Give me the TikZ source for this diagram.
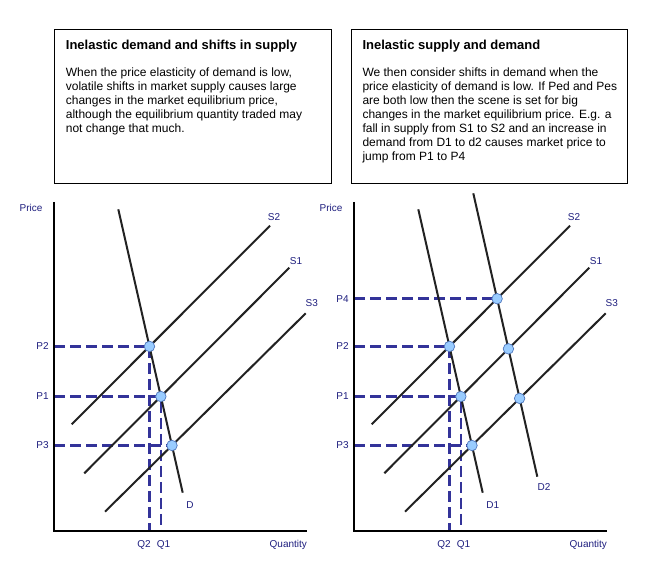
\documentclass[tikz,border=0pt]{standalone}
\usepackage{fontspec}
\setmainfont{Liberation Sans}
\usetikzlibrary{intersections}
\definecolor{labelblue}{RGB}{31,31,127}
\definecolor{guideblue}{RGB}{51,51,153}
\definecolor{ptfill}{RGB}{153,204,255}
\definecolor{ptdraw}{RGB}{80,120,190}
\definecolor{curvecol}{RGB}{34,34,34}
\tikzset{
  axisline/.style={draw=black, line width=2.1pt},
  curveline/.style={draw=curvecol, line width=2pt},
  guideline/.style={draw=guideblue, line width=2.6pt, dash pattern=on 11pt off 5pt},
  eqpt/.style={circle, fill=ptfill, draw=ptdraw, line width=0.7pt, minimum size=10.5pt, inner sep=0pt},
  lbl/.style={text=labelblue, font=\fontsize{10}{12}\selectfont, inner sep=0pt},
  textbox/.style={draw=black, line width=0.9pt, minimum width=276.4pt, minimum height=154pt, anchor=north west, inner sep=0pt},
  titletext/.style={font=\fontsize{13}{15}\selectfont\bfseries, anchor=base west, inner sep=0pt},
  bodytext/.style={font=\fontsize{12}{14}\selectfont, anchor=north west, align=left, inner sep=0pt},
}
\newcommand\marketchart[1]{%
  \coordinate (#1ytop) at (54.3,202);
  \coordinate (#1o) at (54.3,531);
  \coordinate (#1xend) at (306.7,531);
  \coordinate (#1lx) at (42.5,531);
  \coordinate (#1Da) at (118.3,209.3);
  \coordinate (#1Db) at (182.7,492.7);
  \coordinate (#1S2a) at (71.7,424.3);
  \coordinate (#1S2b) at (270,225.7);
  \coordinate (#1S1a) at (84.3,473.3);
  \coordinate (#1S1b) at (289.3,267.7);
  \coordinate (#1S3a) at (105,511.7);
  \coordinate (#1S3b) at (305.7,313.3);
  \path[name path=#1D] (#1Da) -- (#1Db);
  \path[name path=#1S2] (#1S2a) -- (#1S2b);
  \path[name path=#1S1] (#1S1a) -- (#1S1b);
  \path[name path=#1S3] (#1S3a) -- (#1S3b);
  \path[name intersections={of=#1D and #1S2, by={#1e2}}];
  \path[name intersections={of=#1D and #1S1, by={#1e1}}];
  \path[name intersections={of=#1D and #1S3, by={#1e3}}];
  \draw[guideline] (#1o |- #1e2) -- (#1e2) -- (#1e2 |- #1o);
  \draw[guideline] (#1o |- #1e1) -- (#1e1) -- (#1e1 |- #1o);
  \draw[guideline] (#1o |- #1e3) -- (#1e3);
  \draw[axisline] (#1ytop) -- (#1o) -- (#1xend);
  \draw[curveline] (#1Da) -- (#1Db);
  \draw[curveline] (#1S2a) -- (#1S2b);
  \draw[curveline] (#1S1a) -- (#1S1b);
  \draw[curveline] (#1S3a) -- (#1S3b);
  \node[eqpt] (#1pt2) at (#1e2) {};
  \node[eqpt] (#1pt1) at (#1e1) {};
  \node[eqpt] (#1pt3) at (#1e3) {};
  \node[lbl] (#1price) at (31,208) {Price};
  \node[lbl] (#1lP2) at (#1lx |- #1e2) {P2};
  \node[lbl] (#1lP1) at (#1lx |- #1e1) {P1};
  \node[lbl] (#1lP3) at (#1lx |- #1e3) {P3};
  \node[lbl] (#1lQ2) at (144,544.5) {Q2};
  \node[lbl] (#1lQ1) at (163.5,544.5) {Q1};
  \node[lbl] (#1lQ) at (288.3,544.5) {Quantity};
  \node[lbl] (#1lS2) at (274,217) {S2};
  \node[lbl] (#1lS1) at (296,261) {S1};
  \node[lbl] (#1lS3) at (311.7,303.3) {S3};
}
\begin{document}
\begin{tikzpicture}[x=1pt,y=-1pt]
\useasboundingbox (0,0) rectangle (645,580);
\fill[white] (0,0) rectangle (645,580);
% text boxes
\node[textbox] (box1) at (54.3,29.3) {};
\node[textbox] (box2) at (351,29.3) {};
\node[titletext] (t1) at (65.7,49.3) {Inelastic demand and shifts in supply};
\node[titletext] (t2) at (362.3,49.3) {Inelastic supply and demand};
\node[bodytext] (b1) at (65.7,67.2) {When the price elasticity of demand is low,\\volatile shifts in market supply causes large\\changes in the market equilibrium price,\\although the equilibrium quantity traded may\\not change that much.};
\node[bodytext] (b2) at (362.3,67.2) {We then consider shifts in demand when the\\price elasticity of demand is low. If Ped and Pes\\are both low then the scene is set for big\\changes in the market equilibrium price. E.g. a\\fall in supply from S1 to S2 and an increase in\\demand from D1 to d2 causes market price to\\jump from P1 to P4};
% left chart
\begin{scope}
\marketchart{L}
\node[lbl] (LlabD) at (190,505) {D};
\end{scope}
% right chart
\begin{scope}[xshift=300pt]
\coordinate (RD2a) at (173.3,193.3);
\coordinate (RD2b) at (237.3,476.7);
\coordinate (Raxl) at (54.3,531);
\path[name path=RD2] (RD2a) -- (RD2b);
\path[name path=RS2x] (71.7,424.3) -- (270,225.7);
\path[name path=RS1x] (84.3,473.3) -- (289.3,267.7);
\path[name path=RS3x] (105,511.7) -- (305.7,313.3);
\path[name intersections={of=RD2 and RS2x, by={Rf2}}];
\path[name intersections={of=RD2 and RS1x, by={Rf1}}];
\path[name intersections={of=RD2 and RS3x, by={Rf3}}];
\draw[guideline] (Raxl |- Rf2) -- (Rf2);
\marketchart{R}
\draw[curveline] (RD2a) -- (RD2b);
\node[eqpt] (Rq2) at (Rf2) {};
\node[eqpt] (Rq1) at (Rf1) {};
\node[eqpt] (Rq3) at (Rf3) {};
\node[lbl] (RlP4) at (Rlx |- Rf2) {P4};
\node[lbl] (RlabD1) at (192.7,505) {D1};
\node[lbl] (RlabD2) at (244,487.3) {D2};
\end{scope}
\end{tikzpicture}
\end{document}
